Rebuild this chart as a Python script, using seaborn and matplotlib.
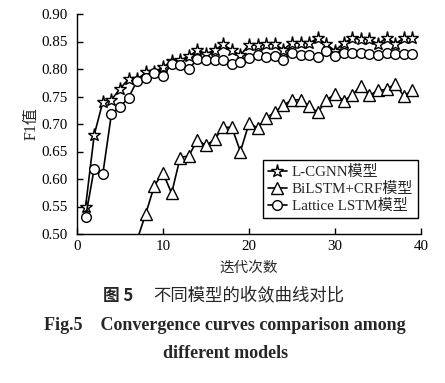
import matplotlib
matplotlib.use("Agg")
import matplotlib.pyplot as plt
import seaborn as sns
import numpy as np
import pandas as pd

# ---- data ----
epochs_cgnn = list(range(1, 40))
f1_cgnn = [0.550, 0.680, 0.740, 0.744, 0.764, 0.782, 0.781, 0.794, 0.795, 0.803,
           0.815, 0.816, 0.823, 0.834, 0.828, 0.834, 0.845, 0.834, 0.825, 0.844,
           0.844, 0.845, 0.845, 0.835, 0.848, 0.847, 0.847, 0.856, 0.845, 0.833,
           0.847, 0.856, 0.855, 0.854, 0.845, 0.857, 0.846, 0.856, 0.856]

epochs_bilstm = list(range(7, 40))
f1_bilstm = [0.490, 0.537, 0.588, 0.611, 0.574, 0.639, 0.642, 0.671, 0.661, 0.672,
             0.694, 0.694, 0.650, 0.701, 0.693, 0.711, 0.722, 0.734, 0.744, 0.744,
             0.733, 0.721, 0.743, 0.755, 0.742, 0.752, 0.770, 0.752, 0.761, 0.763,
             0.773, 0.751, 0.761]

epochs_lattice = list(range(1, 40))
f1_lattice = [0.531, 0.619, 0.609, 0.718, 0.731, 0.748, 0.779, 0.783, 0.792, 0.788,
              0.809, 0.808, 0.800, 0.818, 0.816, 0.817, 0.817, 0.810, 0.813, 0.820,
              0.826, 0.821, 0.823, 0.817, 0.830, 0.825, 0.826, 0.821, 0.832, 0.823,
              0.829, 0.830, 0.830, 0.827, 0.826, 0.830, 0.828, 0.828, 0.828]

series_names = ["L-CGNN模型", "BiLSTM+CRF模型", "Lattice LSTM模型"]
x_ticks = [0, 10, 20, 30, 40]
y_ticks = [0.50, 0.55, 0.60, 0.65, 0.70, 0.75, 0.80, 0.85, 0.90]
x_label = "迭代次数"
y_label = "F1值"
caption_cn_a = "图 5"
caption_cn_b = "不同模型的收敛曲线对比"
caption_en_1 = "Fig.5    Convergence curves comparison among"
caption_en_2 = "different models"

# ---- style ----
sns.set_theme(style="ticks")
plt.rcParams["font.family"] = ["Liberation Serif", "Noto Sans CJK SC", "DejaVu Sans"]
plt.rcParams["axes.linewidth"] = 1.0

W, H = 445, 383
fig = plt.figure(figsize=(W / 100, H / 100), dpi=100)
fig.patch.set_facecolor("white")
ax = fig.add_axes([77 / W, 1 - 234 / H, (421 - 77) / W, (234 - 14) / H])
ax.set_facecolor("white")

common = dict(color="black", linewidth=1.2, markerfacecolor="white",
              markeredgecolor="black", markeredgewidth=1.0)
sns.lineplot(x=epochs_cgnn, y=f1_cgnn, ax=ax, marker="*", markersize=9.5,
             label=series_names[0], **common)
sns.lineplot(x=epochs_bilstm, y=f1_bilstm, ax=ax, marker="^", markersize=8,
             label=series_names[1], **common)
sns.lineplot(x=epochs_lattice, y=f1_lattice, ax=ax, marker="o", markersize=7,
             label=series_names[2], **common)

ax.set_xlim(0, 40)
ax.set_ylim(0.50, 0.90)
ax.set_xticks(x_ticks)
ax.set_yticks(y_ticks)
ax.set_yticklabels([f"{v:.2f}" for v in y_ticks])
ax.tick_params(direction="in", length=4, width=1.0, labelsize=10.8,
               colors="black", top=False, right=False)
ax.tick_params(axis="y", pad=7)
ax.tick_params(axis="x", pad=4)
for s in ["top", "right"]:
    ax.spines[s].set_visible(False)
for s in ["left", "bottom"]:
    ax.spines[s].set_color("black")

ax.set_xlabel(x_label, fontsize=10.5, family=["Noto Sans CJK SC"], labelpad=6)
ax.set_ylabel(y_label, fontsize=11.5, family=["Liberation Serif", "Noto Sans CJK SC"], labelpad=1)

leg = ax.legend(loc="lower right", bbox_to_anchor=(0.99, 0.075), fontsize=10.8,
                frameon=True, fancybox=False, edgecolor="black", framealpha=1,
                handlelength=1.3, handletextpad=0.3, borderpad=0.3,
                labelspacing=0.2, borderaxespad=0)
leg.get_frame().set_linewidth(1.0)

fig.text(118 / W, 1 - 296 / H, caption_cn_a, ha="center", va="center",
         fontsize=12, fontweight="bold", family=["Noto Sans CJK SC"])
fig.text(249 / W, 1 - 296 / H, caption_cn_b, ha="center", va="center",
         fontsize=12.5, family=["Noto Sans CJK SC"])
fig.text(225 / W, 1 - 325 / H, caption_en_1, ha="center", va="center",
         fontsize=13, fontweight="bold", family=["Liberation Serif"])
fig.text(226 / W, 1 - 353 / H, caption_en_2, ha="center", va="center",
         fontsize=13, fontweight="bold", family=["Liberation Serif"])

fig.savefig("out.png", dpi=100, facecolor="white")
